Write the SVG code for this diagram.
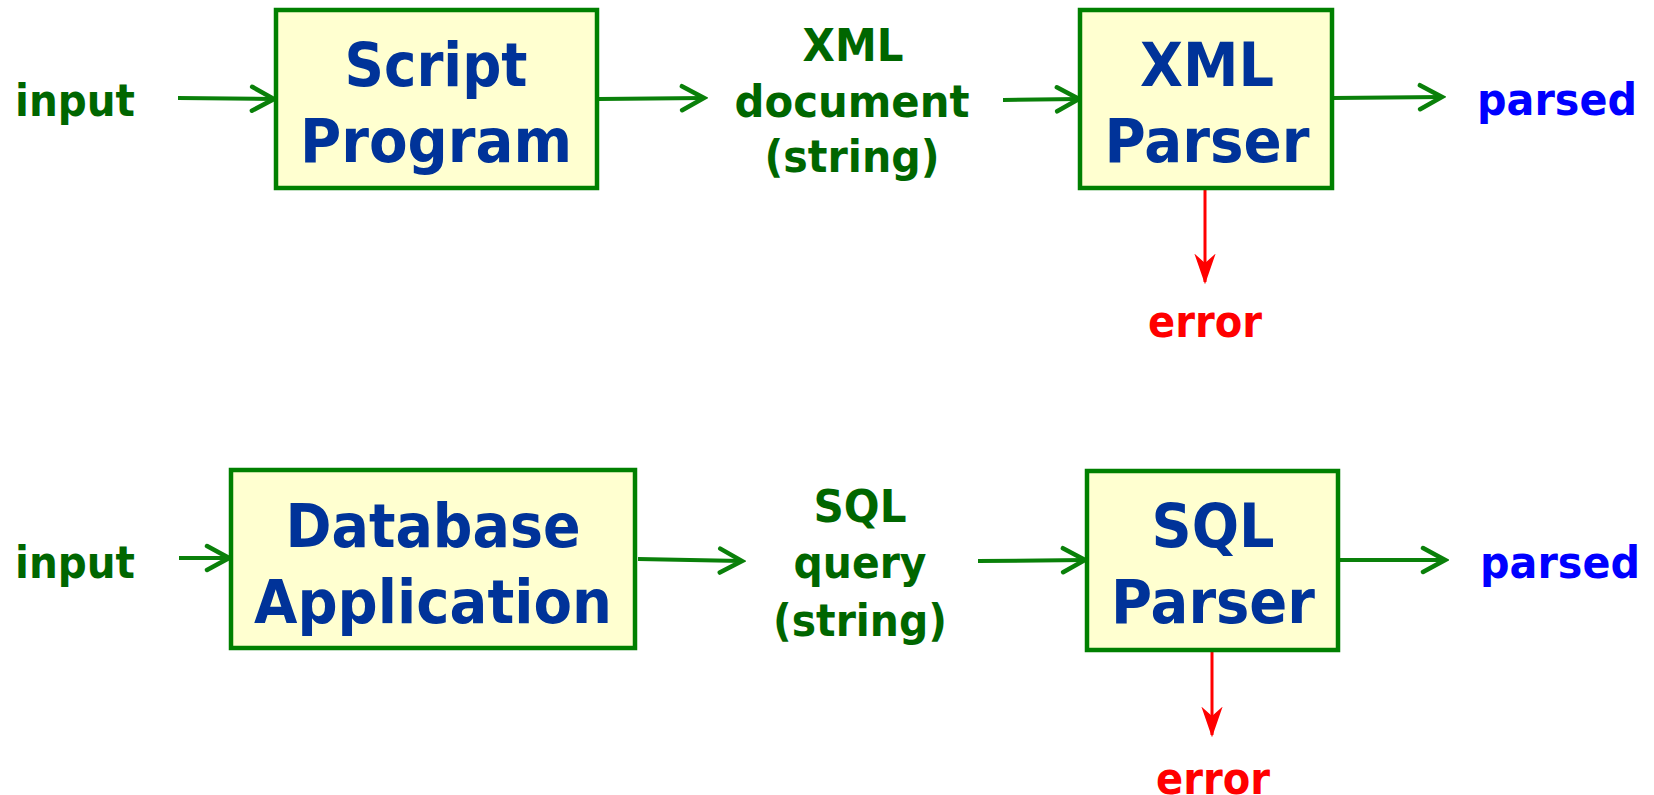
<svg xmlns="http://www.w3.org/2000/svg" width="1654" height="795" viewBox="0 0 1654 795">
<style>
.box{fill:#ffffd0;stroke:#008000;stroke-width:4.5}
.bt{font-family:"DejaVu Sans",Verdana,sans-serif;font-weight:bold;font-size:61px;fill:#003399;text-anchor:middle}
.lbl{font-family:"DejaVu Sans",Verdana,sans-serif;font-weight:bold;font-size:45px;fill:#006600;text-anchor:middle}
.out{font-family:"DejaVu Sans",Verdana,sans-serif;font-weight:bold;font-size:44px;fill:#0000ff;text-anchor:middle}
.err{font-family:"DejaVu Sans",Verdana,sans-serif;font-weight:bold;font-size:44px;fill:#ff0000;text-anchor:middle}
.g{stroke:#0a800a;stroke-width:4;fill:none;marker-end:url(#ga)}
.r{stroke:#ff0000;stroke-width:3;fill:none;marker-end:url(#ra)}
</style>
<defs>
<marker id="ga" markerUnits="userSpaceOnUse" markerWidth="30" markerHeight="30" viewBox="-26 -15 30 30" refX="0" refY="0" orient="auto">
<path d="M-22,-12 L0,0 L-22,12" fill="none" stroke="#0a800a" stroke-width="4.5" stroke-linecap="round" stroke-linejoin="miter"/>
</marker>
<marker id="ra" markerUnits="userSpaceOnUse" markerWidth="30" markerHeight="30" viewBox="-28 -15 30 30" refX="0" refY="0" orient="auto">
<path d="M0,0 L-26,-9 L-18,0 L-26,9 Z" fill="#ff0000" stroke="#ff0000" stroke-width="1.5" stroke-linejoin="miter"/>
</marker>
</defs>

<g id="connectors">
<line class="g" x1="178" y1="98" x2="274" y2="99"/>
<line class="g" x1="599" y1="99" x2="704" y2="98"/>
<line class="g" x1="1003" y1="100" x2="1079" y2="99"/>
<line class="g" x1="1333" y1="98" x2="1442" y2="97"/>
<line class="r" x1="1205" y1="189" x2="1205" y2="282"/>
<line class="g" x1="179" y1="558" x2="229" y2="558"/>
<line class="g" x1="638" y1="559" x2="742" y2="561"/>
<line class="g" x1="978" y1="561" x2="1085" y2="560"/>
<line class="g" x1="1340" y1="560" x2="1445" y2="560"/>
<line class="r" x1="1212" y1="651" x2="1212" y2="735"/>
</g>

<g id="input1"><text class="lbl" x="75" y="116" textLength="120" lengthAdjust="spacingAndGlyphs">input</text></g>
<g id="script-program">
<rect class="box" x="276" y="10" width="321" height="178"/>
<text class="bt" x="436" y="86" textLength="183" lengthAdjust="spacingAndGlyphs">Script</text>
<text class="bt" x="436" y="162" textLength="272" lengthAdjust="spacingAndGlyphs">Program</text>
</g>
<g id="xml-document">
<text class="lbl" x="853" y="61" textLength="101" lengthAdjust="spacingAndGlyphs">XML</text>
<text class="lbl" x="852" y="117" textLength="235" lengthAdjust="spacingAndGlyphs">document</text>
<text class="lbl" x="852" y="172" textLength="175" lengthAdjust="spacingAndGlyphs">(string)</text>
</g>
<g id="xml-parser">
<rect class="box" x="1080" y="10" width="252" height="178"/>
<text class="bt" x="1207" y="86" textLength="134" lengthAdjust="spacingAndGlyphs">XML</text>
<text class="bt" x="1207" y="162" textLength="205" lengthAdjust="spacingAndGlyphs">Parser</text>
</g>
<g id="parsed1"><text class="out" x="1557" y="115" textLength="160" lengthAdjust="spacingAndGlyphs">parsed</text></g>
<g id="error1"><text class="err" x="1205" y="337" textLength="114" lengthAdjust="spacingAndGlyphs">error</text></g>

<g id="input2"><text class="lbl" x="75" y="578" textLength="120" lengthAdjust="spacingAndGlyphs">input</text></g>
<g id="database-application">
<rect class="box" x="231" y="470" width="404" height="178"/>
<text class="bt" x="433" y="547" textLength="295" lengthAdjust="spacingAndGlyphs">Database</text>
<text class="bt" x="433" y="623" textLength="358" lengthAdjust="spacingAndGlyphs">Application</text>
</g>
<g id="sql-query">
<text class="lbl" x="860" y="522" textLength="93" lengthAdjust="spacingAndGlyphs">SQL</text>
<text class="lbl" x="860" y="578" textLength="133" lengthAdjust="spacingAndGlyphs">query</text>
<text class="lbl" x="860" y="636" textLength="174" lengthAdjust="spacingAndGlyphs">(string)</text>
</g>
<g id="sql-parser">
<rect class="box" x="1087" y="471" width="251" height="179"/>
<text class="bt" x="1213" y="547" textLength="123" lengthAdjust="spacingAndGlyphs">SQL</text>
<text class="bt" x="1213" y="623" textLength="204" lengthAdjust="spacingAndGlyphs">Parser</text>
</g>
<g id="parsed2"><text class="out" x="1560" y="578" textLength="160" lengthAdjust="spacingAndGlyphs">parsed</text></g>
<g id="error2"><text class="err" x="1213" y="794" textLength="114" lengthAdjust="spacingAndGlyphs">error</text></g>
</svg>
